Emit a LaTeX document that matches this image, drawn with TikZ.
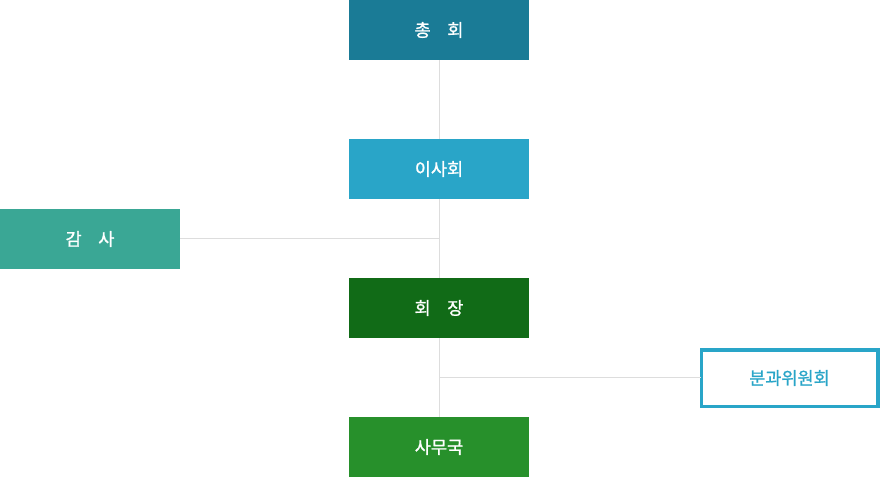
\documentclass[tikz,border=0pt]{standalone}
\usepackage{fontspec}
\setmainfont{Noto Sans CJK KR}
\newfontfamily\medfont{Noto Sans CJK KR}[FakeBold=1.2]
\definecolor{cGen}{HTML}{1A7B96}
\definecolor{cBoard}{HTML}{29A5C8}
\definecolor{cAudit}{HTML}{3AA795}
\definecolor{cPres}{HTML}{116B17}
\definecolor{cSec}{HTML}{27902B}
\definecolor{cLine}{HTML}{DDDDDD}
\begin{document}
\begin{tikzpicture}[x=1pt,y=-1pt,
  orgbox/.style={minimum width=180pt,minimum height=60pt,inner sep=0pt,outer sep=0pt,text=white,font=\medfont\fontsize{17.5}{20}\selectfont},
  link/.style={draw=cLine,line width=1pt}]
\useasboundingbox (0,0) rectangle (880,477);
\node[orgbox,fill=cGen] (gen) at (439,30) {\raisebox{-1pt}{총\hspace{0.95em}회}};
\node[orgbox,fill=cBoard] (board) at (439,169) {\raisebox{-1pt}{이사회}};
\node[orgbox,fill=cAudit] (audit) at (90,239) {\raisebox{-1pt}{감\hspace{0.95em}사}};
\node[orgbox,fill=cPres] (pres) at (439,308) {\raisebox{-1pt}{회\hspace{0.95em}장}};
\node[orgbox,fill=cSec] (sec) at (439,447) {\raisebox{-1pt}{사무국}};
\node[orgbox,draw=cBoard,line width=3.5pt,fill=white,text=cBoard,minimum width=176.5pt,minimum height=56.5pt] (sub) at (789.5,378) {\raisebox{-1pt}{분과위원회}};
\coordinate (j1) at (439,238);
\coordinate (j2) at (439,377);
\draw[link] (gen.south) -- (board.north);
\draw[link] (board.south) -- (pres.north);
\draw[link] (pres.south) -- (sec.north);
\draw[link] (audit.east |- j1) -- (j1);
\draw[link] (j2) -- (sub.west |- j2);
\end{tikzpicture}
\end{document}
